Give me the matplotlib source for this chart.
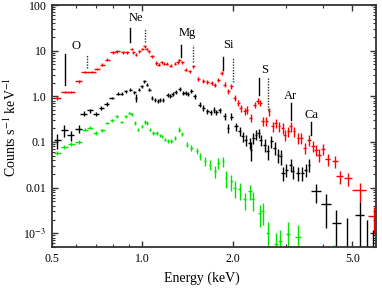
import numpy as np
import matplotlib
matplotlib.use("Agg")
import matplotlib.pyplot as plt
from matplotlib.ticker import FixedLocator, FixedFormatter, NullFormatter, LogLocator

plt.rcParams["font.family"] = ["Liberation Serif", "DejaVu Serif"]
plt.rcParams["mathtext.fontset"] = "stix"

# rows: energy (keV), counts s-1 keV-1, energy half-width (keV), fractional error
red = [
    (0.521, 0.92, 0.014, 0.08), (0.552, 1.25, 0.017, 0.07), (0.580, 1.25, 0.018, 0.07),
    (0.613, 2.13, 0.016, 0.07), (0.645, 3.42, 0.020, 0.06), (0.680, 3.42, 0.020, 0.06),
    (0.707, 3.98, 0.016, 0.06), (0.735, 4.94, 0.014, 0.06), (0.765, 6.35, 0.017, 0.06),
    (0.796, 9.18, 0.018, 0.06), (0.825, 9.66, 0.016, 0.06), (0.862, 9.18, 0.016, 0.06),
    (0.889, 9.18, 0.014, 0.06), (0.920, 10.9, 0.012, 0.06), (0.934, 9.18, 0.010, 0.06),
    (0.953, 8.17, 0.010, 0.07), (0.978, 9.66, 0.012, 0.06), (0.998, 10.9, 0.012, 0.06),
    (1.017, 12.4, 0.012, 0.06), (1.035, 10.9, 0.012, 0.06), (1.049, 9.66, 0.012, 0.06),
    (1.077, 7.50, 0.013, 0.07), (1.113, 5.38, 0.013, 0.08), (1.132, 4.94, 0.013, 0.08),
    (1.161, 5.55, 0.013, 0.08), (1.180, 5.19, 0.013, 0.08), (1.204, 5.19, 0.014, 0.08),
    (1.243, 4.70, 0.014, 0.08), (1.284, 5.19, 0.014, 0.08), (1.310, 5.55, 0.014, 0.08),
    (1.328, 6.13, 0.015, 0.08), (1.358, 5.55, 0.015, 0.08), (1.396, 3.84, 0.016, 0.09),
    (1.440, 3.52, 0.016, 0.09), (1.478, 4.53, 0.017, 0.09), (1.536, 2.40, 0.018, 0.10),
    (1.595, 2.13, 0.018, 0.10), (1.645, 2.02, 0.019, 0.10), (1.700, 1.96, 0.019, 0.11),
    (1.743, 1.80, 0.020, 0.11), (1.790, 2.32, 0.020, 0.11), (1.835, 3.25, 0.021, 0.10),
    (1.880, 1.80, 0.021, 0.12), (1.930, 1.29, 0.022, 0.13), (1.980, 1.66, 0.022, 0.12),
    (2.030, 0.92, 0.023, 0.14), (2.090, 0.72, 0.024, 0.15), (2.130, 0.557, 0.024, 0.17),
    (2.190, 0.47, 0.025, 0.18), (2.230, 0.51, 0.025, 0.18), (2.300, 0.337, 0.026, 0.20),
    (2.370, 0.66, 0.026, 0.15), (2.420, 0.78, 0.027, 0.15), (2.470, 0.72, 0.027, 0.15),
    (2.520, 0.284, 0.028, 0.22), (2.590, 0.284, 0.028, 0.22), (2.640, 0.47, 0.029, 0.20),
    (2.720, 0.221, 0.030, 0.24), (2.780, 0.262, 0.030, 0.22), (2.850, 0.221, 0.031, 0.24),
    (2.930, 0.204, 0.032, 0.25), (2.980, 0.145, 0.033, 0.27), (3.060, 0.172, 0.034, 0.26),
    (3.120, 0.221, 0.035, 0.24), (3.200, 0.172, 0.036, 0.26), (3.300, 0.123, 0.038, 0.27),
    (3.380, 0.123, 0.040, 0.27), (3.470, 0.0743, 0.045, 0.28), (3.590, 0.113, 0.055, 0.26),
    (3.710, 0.083, 0.058, 0.27), (3.800, 0.068, 0.058, 0.28), (3.890, 0.053, 0.060, 0.30),
    (3.990, 0.0707, 0.060, 0.28), (4.150, 0.0426, 0.080, 0.30), (4.370, 0.038, 0.100, 0.30),
    (4.540, 0.0178, 0.130, 0.33), (4.840, 0.0159, 0.140, 0.33), (5.290, 0.0088, 0.280, 0.45),
    (5.930, 0.0024, 0.270, 0.60),
]

black = [
    (0.521, 0.110, 0.014, 0.35), (0.550, 0.180, 0.016, 0.28), (0.578, 0.140, 0.016, 0.25),
    (0.613, 0.197, 0.016, 0.20), (0.637, 0.418, 0.016, 0.12), (0.670, 0.490, 0.016, 0.10),
    (0.700, 0.418, 0.016, 0.10), (0.729, 0.557, 0.014, 0.09), (0.760, 0.680, 0.014, 0.08),
    (0.790, 0.920, 0.014, 0.07), (0.830, 1.15, 0.014, 0.07), (0.853, 1.15, 0.012, 0.07),
    (0.880, 1.29, 0.012, 0.07), (0.910, 1.40, 0.010, 0.07), (0.940, 1.22, 0.010, 0.08),
    (0.955, 0.92, 0.008, 0.20), (0.975, 1.40, 0.010, 0.08), (0.995, 1.66, 0.010, 0.07),
    (1.015, 2.13, 0.010, 0.07), (1.035, 1.80, 0.010, 0.07), (1.055, 1.40, 0.010, 0.08),
    (1.077, 0.92, 0.012, 0.10), (1.102, 0.82, 0.012, 0.10), (1.127, 0.78, 0.012, 0.10),
    (1.145, 0.847, 0.012, 0.10), (1.172, 0.847, 0.012, 0.10), (1.216, 1.09, 0.014, 0.10),
    (1.240, 1.00, 0.014, 0.10), (1.260, 1.15, 0.014, 0.10), (1.290, 1.22, 0.014, 0.10),
    (1.334, 1.45, 0.015, 0.10), (1.370, 1.19, 0.015, 0.10), (1.396, 1.19, 0.015, 0.10),
    (1.420, 1.15, 0.015, 0.10), (1.457, 1.29, 0.016, 0.10), (1.496, 1.00, 0.016, 0.11),
    (1.555, 0.66, 0.018, 0.13), (1.595, 0.557, 0.018, 0.13), (1.645, 0.47, 0.018, 0.14),
    (1.690, 0.45, 0.018, 0.14), (1.733, 0.51, 0.018, 0.14), (1.765, 0.45, 0.018, 0.14),
    (1.811, 0.49, 0.020, 0.14), (1.882, 0.365, 0.020, 0.16), (1.930, 0.204, 0.020, 0.22),
    (1.980, 0.36, 0.022, 0.17), (2.050, 0.221, 0.025, 0.20), (2.110, 0.172, 0.025, 0.22),
    (2.160, 0.133, 0.025, 0.24), (2.210, 0.113, 0.025, 0.26), (2.280, 0.0955, 0.025, 0.28),
    (2.300, 0.068, 0.020, 0.45), (2.340, 0.123, 0.025, 0.25), (2.390, 0.145, 0.025, 0.24),
    (2.440, 0.158, 0.025, 0.23), (2.480, 0.113, 0.025, 0.27), (2.560, 0.0877, 0.030, 0.30),
    (2.620, 0.0626, 0.030, 0.35), (2.690, 0.104, 0.030, 0.28), (2.760, 0.0743, 0.030, 0.32),
    (2.830, 0.053, 0.030, 0.35), (2.890, 0.0486, 0.030, 0.35), (2.940, 0.0211, 0.035, 0.35),
    (3.020, 0.0249, 0.035, 0.33), (3.120, 0.032, 0.035, 0.30), (3.170, 0.0229, 0.035, 0.33),
    (3.300, 0.0211, 0.040, 0.33), (3.410, 0.0211, 0.040, 0.33), (3.500, 0.0249, 0.040, 0.32),
    (3.590, 0.032, 0.040, 0.30), (3.800, 0.0083, 0.150, 0.45), (4.100, 0.0043, 0.150, 0.70),
    (4.430, 0.0017, 0.160, 0.90), (4.800, 0.0004, 0.0, 4.5), (5.290, 0.0025, 0.200, 0.95),
    (5.600, 0.0004, 0.0, 4.0), (5.850, 0.0004, 0.0, 2.0),
]

green = [
    (0.521, 0.0577, 0.013, 0.12), (0.550, 0.078, 0.016, 0.10), (0.580, 0.092, 0.016, 0.10),
    (0.613, 0.100, 0.016, 0.10), (0.645, 0.187, 0.016, 0.08), (0.670, 0.204, 0.014, 0.08),
    (0.700, 0.158, 0.014, 0.08), (0.735, 0.180, 0.014, 0.08), (0.760, 0.262, 0.012, 0.07),
    (0.790, 0.300, 0.012, 0.07), (0.820, 0.365, 0.012, 0.07), (0.853, 0.275, 0.012, 0.07),
    (0.880, 0.365, 0.010, 0.07), (0.905, 0.430, 0.010, 0.07), (0.920, 0.400, 0.008, 0.07),
    (0.946, 0.262, 0.008, 0.08), (0.970, 0.187, 0.008, 0.09), (0.995, 0.221, 0.008, 0.08),
    (1.021, 0.275, 0.008, 0.08), (1.040, 0.262, 0.008, 0.08), (1.061, 0.187, 0.008, 0.08),
    (1.088, 0.158, 0.010, 0.08), (1.115, 0.158, 0.010, 0.08), (1.145, 0.140, 0.010, 0.08),
    (1.160, 0.133, 0.010, 0.08), (1.190, 0.113, 0.010, 0.09), (1.215, 0.104, 0.010, 0.09),
    (1.250, 0.104, 0.012, 0.09), (1.284, 0.123, 0.012, 0.09), (1.328, 0.187, 0.012, 0.12),
    (1.355, 0.150, 0.012, 0.12), (1.410, 0.0877, 0.014, 0.12), (1.457, 0.0743, 0.014, 0.13),
    (1.520, 0.0626, 0.015, 0.15), (1.555, 0.0486, 0.015, 0.17), (1.615, 0.038, 0.016, 0.22),
    (1.678, 0.032, 0.016, 0.24), (1.743, 0.0229, 0.017, 0.30), (1.790, 0.0349, 0.017, 0.25),
    (1.853, 0.038, 0.018, 0.25), (1.900, 0.0164, 0.020, 0.40), (1.980, 0.0138, 0.020, 0.40),
    (2.030, 0.0099, 0.025, 0.40), (2.110, 0.0091, 0.025, 0.40), (2.190, 0.0055, 0.030, 0.40),
    (2.280, 0.0083, 0.030, 0.35), (2.330, 0.0055, 0.030, 0.45), (2.460, 0.0028, 0.030, 0.50),
    (2.520, 0.00305, 0.030, 0.50), (2.620, 0.00103, 0.030, 0.75), (2.780, 0.00057, 0.040, 0.80),
    (2.880, 0.00067, 0.040, 0.80), (3.050, 0.00094, 0.050, 0.90), (3.300, 0.00083, 0.080, 0.85),
    (4.340, 0.0004, 0.0, 0.40),
]

# emission line identifications
line_names = ["O", "Ne", "Mg", "Si", "S", "Ar", "Ca"]
line_solid_e = [0.553, 0.910, 1.340, 1.850, 2.450, 3.130, 3.650]
line_solid_top = [8.6, 31.8, 13.5, 7.4, 2.56, 0.73, 0.27]
line_solid_bot = [1.8, 15.7, 7.4, 3.8, 1.09, 0.31, 0.145]
line_dot_e = [0.653, 1.020, 1.470, 2.010, 2.630, None, None]
line_dot_bot = [4.25, 15.7, 5.75, 2.1, 0.51, None, None]
label_e = [0.600, 0.950, 1.410, 1.930, 2.550, 3.120, 3.670]
label_f = [12.8, 52.0, 24.9, 13.5, 3.84, 1.04, 0.38]

x_ticks = [0.5, 1.0, 2.0, 5.0]
x_ticklabels = ["0.5", "1.0", "2.0", "5.0"]
y_ticks = [1e-3, 1e-2, 1e-1, 1.0, 10.0, 100.0]
y_ticklabels = ["10$^{-3}$", "0.01", "0.1", "1.0", "10", "100"]

fig = plt.figure(figsize=(3.82, 2.90), dpi=100)
ax = fig.add_axes([52 / 382, 43 / 290, 324 / 382, 242 / 290])

for rows, col in [(red, "#ff0000"), (black, "black"), (green, "#00e600")]:
    d = np.array(rows)
    e, f, de, fr = d[:, 0], d[:, 1], d[:, 2], d[:, 3]
    lo = f * np.minimum(fr, 0.99)
    hi = f * fr
    ax.errorbar(e, f, xerr=de, yerr=[lo, hi], fmt="none", ecolor=col,
                elinewidth=1.0, capsize=0)

for i, name in enumerate(line_names):
    ax.plot([line_solid_e[i]] * 2, [line_solid_bot[i], line_solid_top[i]],
            color="black", lw=1.0)
    if line_dot_e[i] is not None:
        ax.plot([line_dot_e[i]] * 2, [line_dot_bot[i], line_solid_top[i]],
                color="#333333", lw=1.0, ls=(0, (1, 1)))
    ax.text(label_e[i], label_f[i], name, ha="center", va="center", fontsize=9)

ax.set_xscale("log")
ax.set_yscale("log")
ax.set_xlim(0.5, 6.0)
ax.set_ylim(5e-4, 100)

ax.xaxis.set_major_locator(FixedLocator(x_ticks))
ax.xaxis.set_major_formatter(FixedFormatter(x_ticklabels))
ax.xaxis.set_minor_locator(FixedLocator([0.6, 0.7, 0.8, 0.9, 3.0, 4.0]))
ax.xaxis.set_minor_formatter(NullFormatter())
ax.yaxis.set_major_locator(FixedLocator(y_ticks))
ax.yaxis.set_major_formatter(FixedFormatter(y_ticklabels))
ax.yaxis.set_minor_locator(LogLocator(base=10, subs=np.arange(2, 10)))
ax.yaxis.set_minor_formatter(NullFormatter())

ax.tick_params(which="both", direction="in", top=True, right=True, labelsize=8.5,
               color="#333333")
ax.tick_params(which="major", length=4, width=1.0, pad=4)
ax.tick_params(which="minor", length=2, width=0.8)
for s in ax.spines.values():
    s.set_linewidth(1.3)
    s.set_color("#333333")

ax.set_xlabel("Energy (keV)", fontsize=10)
ax.set_ylabel("Counts s$^{-1}$ keV$^{-1}$", fontsize=10)
ax.xaxis.set_label_coords((202 - 52) / 324, (247 - 272) / 242)
ax.yaxis.set_label_coords((19 - 52) / 324, (247 - 127) / 242)

fig.savefig("out.png", dpi=100)
